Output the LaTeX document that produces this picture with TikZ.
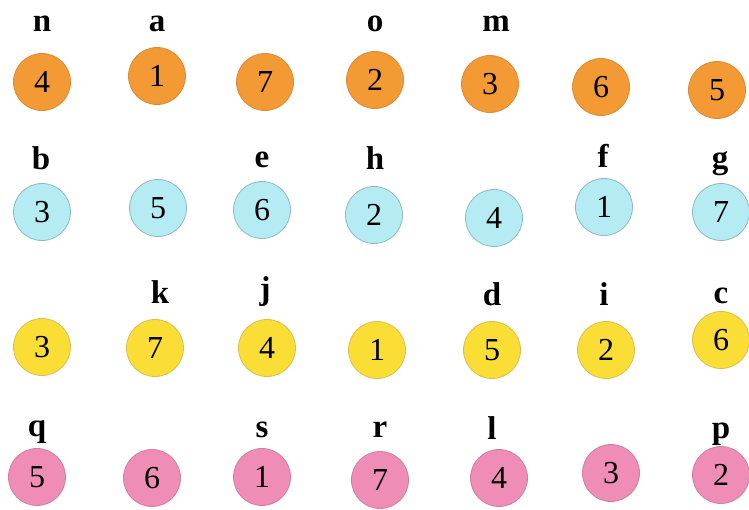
\documentclass[tikz,border=0pt]{standalone}
\usepackage{fontspec}
\setmainfont{Liberation Serif}
\definecolor{orangefill}{HTML}{F39A35}
\definecolor{orangeline}{HTML}{D98A3A}
\definecolor{cyanfill}{HTML}{B5ECF4}
\definecolor{cyanline}{HTML}{8FB9BE}
\definecolor{yellowfill}{HTML}{FADD35}
\definecolor{yellowline}{HTML}{D8BE55}
\definecolor{pinkfill}{HTML}{EF8DB6}
\definecolor{pinkline}{HTML}{CF7EA0}
\begin{document}
\begin{tikzpicture}[x=1pt,y=-1pt]

\tikzstyle{circ} = [circle, line width=0.8pt, minimum size=57pt, inner sep=0pt, text centered, font=\fontsize{32}{32}\selectfont];
\tikzstyle{dummy} = [rectangle, inner sep=0pt, outer sep=0pt, font=\fontsize{33}{33}\selectfont\bfseries];
\tikzstyle{orng} = [circ, draw=orangeline, fill=orangefill];
\tikzstyle{cyn} = [circ, draw=cyanline, fill=cyanfill];
\tikzstyle{ylw} = [circ, draw=yellowline, fill=yellowfill];
\tikzstyle{pnk} = [circ, draw=pinkline, fill=pinkfill];

\useasboundingbox (0,0) rectangle (749,510);

% first row
\node[orng] at (42,82) (o1) {4};
\node[orng] at (157,76) (o2) {1};
\node[orng] at (265,82) (o3) {7};
\node[orng] at (375,80) (o4) {2};
\node[orng] at (490,84) (o5) {3};
\node[orng] at (601,87) (o6) {6};
\node[orng] at (717,90) (o7) {5};
\node[dummy] at (42,24) (lo1) {n};
\node[dummy] at (157,24) (lo2) {a};
\node[dummy] at (375,24) (lo4) {o};
\node[dummy] at (496,24) (lo5) {m};

% second row
\node[cyn] at (42,212) (c1) {3};
\node[cyn] at (158,208) (c2) {5};
\node[cyn] at (262,210) (c3) {6};
\node[cyn] at (374,215) (c4) {2};
\node[cyn] at (494,218) (c5) {4};
\node[cyn] at (604,207) (c6) {1};
\node[cyn] at (721,212) (c7) {7};
\node[dummy] at (41,158) (lc1) {b};
\node[dummy] at (262,160) (lc3) {e};
\node[dummy] at (375,158) (lc4) {h};
\node[dummy] at (603,156) (lc6) {f};
\node[dummy] at (720,164) (lc7) {g};

% third row
\node[ylw] at (42,347) (y1) {3};
\node[ylw] at (155,348) (y2) {7};
\node[ylw] at (267,348) (y3) {4};
\node[ylw] at (377,350) (y4) {1};
\node[ylw] at (492,350) (y5) {5};
\node[ylw] at (606,350) (y6) {2};
\node[ylw] at (721,340) (y7) {6};
\node[dummy] at (160,292) (ly2) {k};
\node[dummy] at (265,292) (ly3) {j};
\node[dummy] at (492,294) (ly5) {d};
\node[dummy] at (604,294) (ly6) {i};
\node[dummy] at (721,296) (ly7) {c};

% fourth row
\node[pnk] at (37,477) (p1) {5};
\node[pnk] at (152,478) (p2) {6};
\node[pnk] at (262,477) (p3) {1};
\node[pnk] at (380,480) (p4) {7};
\node[pnk] at (499,478) (p5) {4};
\node[pnk] at (611,473) (p6) {3};
\node[pnk] at (721,475) (p7) {2};
\node[dummy] at (37,432) (lp1) {q};
\node[dummy] at (262,430) (lp3) {s};
\node[dummy] at (380,430) (lp4) {r};
\node[dummy] at (492,428) (lp5) {l};
\node[dummy] at (721,434) (lp7) {p};

\end{tikzpicture}
\end{document}
